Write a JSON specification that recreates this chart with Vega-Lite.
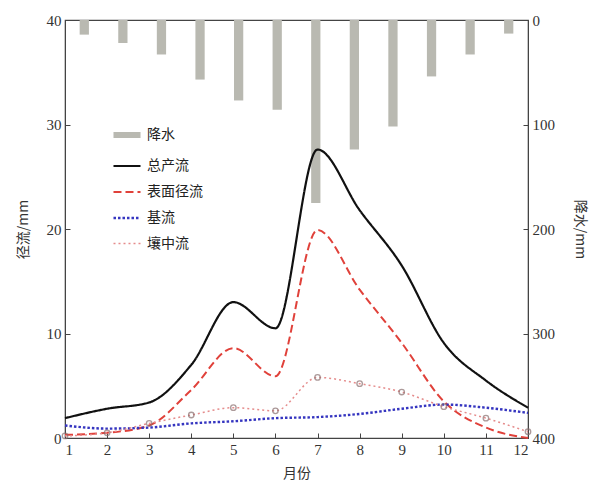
{
  "$schema": "https://vega.github.io/schema/vega-lite/v6.json",
  "autosize": {"type": "none"},
  "padding": {"left": 65, "top": 20, "right": 70, "bottom": 53},
  "width": 463,
  "height": 418,
  "background": "white",
  "config": {
    "view": {"stroke": "#444", "strokeWidth": 1.2},
    "axis": {
      "labelFont": "Liberation Serif",
      "labelFontSize": 15,
      "labelColor": "#333",
      "titleFont": "Noto Sans CJK SC",
      "titleFontSize": 14,
      "titleFontWeight": "normal",
      "titleColor": "#333",
      "domainColor": "#444",
      "tickColor": "#444",
      "tickSize": -5,
      "labelPadding": 9,
      "grid": false
    }
  },
  "datasets": {
    "precip": [
      {"month": 1, "series": "降水", "p": 14},
      {"month": 2, "series": "降水", "p": 22},
      {"month": 3, "series": "降水", "p": 33},
      {"month": 4, "series": "降水", "p": 57},
      {"month": 5, "series": "降水", "p": 77},
      {"month": 6, "series": "降水", "p": 86},
      {"month": 7, "series": "降水", "p": 175},
      {"month": 8, "series": "降水", "p": 124},
      {"month": 9, "series": "降水", "p": 102},
      {"month": 10, "series": "降水", "p": 54},
      {"month": 11, "series": "降水", "p": 33},
      {"month": 12, "series": "降水", "p": 13}
    ],
    "flow": [
      {"month": 1, "series": "总产流", "v": 1.9},
      {"month": 2, "series": "总产流", "v": 2.8},
      {"month": 3, "series": "总产流", "v": 3.4},
      {"month": 4, "series": "总产流", "v": 7.0},
      {"month": 5, "series": "总产流", "v": 13.0},
      {"month": 6, "series": "总产流", "v": 10.5},
      {"month": 7, "series": "总产流", "v": 27.6},
      {"month": 8, "series": "总产流", "v": 21.8},
      {"month": 9, "series": "总产流", "v": 16.5},
      {"month": 10, "series": "总产流", "v": 9.1},
      {"month": 11, "series": "总产流", "v": 5.5},
      {"month": 12, "series": "总产流", "v": 2.9},
      {"month": 1, "series": "表面径流", "v": 0.3},
      {"month": 2, "series": "表面径流", "v": 0.5},
      {"month": 3, "series": "表面径流", "v": 1.2},
      {"month": 4, "series": "表面径流", "v": 4.6},
      {"month": 5, "series": "表面径流", "v": 8.6},
      {"month": 6, "series": "表面径流", "v": 5.9},
      {"month": 7, "series": "表面径流", "v": 19.9},
      {"month": 8, "series": "表面径流", "v": 14.2},
      {"month": 9, "series": "表面径流", "v": 9.1},
      {"month": 10, "series": "表面径流", "v": 3.5},
      {"month": 11, "series": "表面径流", "v": 1.0},
      {"month": 12, "series": "表面径流", "v": 0.0},
      {"month": 1, "series": "基流", "v": 1.2},
      {"month": 2, "series": "基流", "v": 0.9},
      {"month": 3, "series": "基流", "v": 1.0},
      {"month": 4, "series": "基流", "v": 1.4},
      {"month": 5, "series": "基流", "v": 1.6},
      {"month": 6, "series": "基流", "v": 1.9},
      {"month": 7, "series": "基流", "v": 2.0},
      {"month": 8, "series": "基流", "v": 2.3},
      {"month": 9, "series": "基流", "v": 2.8},
      {"month": 10, "series": "基流", "v": 3.2},
      {"month": 11, "series": "基流", "v": 2.9},
      {"month": 12, "series": "基流", "v": 2.4},
      {"month": 1, "series": "壤中流", "v": 0.2},
      {"month": 2, "series": "壤中流", "v": 0.5},
      {"month": 3, "series": "壤中流", "v": 1.4},
      {"month": 4, "series": "壤中流", "v": 2.2},
      {"month": 5, "series": "壤中流", "v": 2.9},
      {"month": 6, "series": "壤中流", "v": 2.6},
      {"month": 7, "series": "壤中流", "v": 5.8},
      {"month": 8, "series": "壤中流", "v": 5.2},
      {"month": 9, "series": "壤中流", "v": 4.4},
      {"month": 10, "series": "壤中流", "v": 3.0},
      {"month": 11, "series": "壤中流", "v": 1.9},
      {"month": 12, "series": "壤中流", "v": 0.6}
    ]
  },
  "layer": [
    {
      "data": {"name": "precip"},
      "mark": {"type": "bar", "width": {"band": 0.24}},
      "encoding": {
        "x": {"field": "month", "type": "ordinal", "axis": null,
              "scale": {"paddingInner": 0, "paddingOuter": 0}},
        "y": {"field": "p", "type": "quantitative",
              "scale": {"domain": [0, 400], "reverse": true, "nice": false},
              "axis": {"orient": "right", "title": "降水/mm", "titleAngle": 90,
                       "values": [0, 100, 200, 300, 400], "titlePadding": 18}},
        "color": {"field": "series", "type": "nominal",
                  "scale": {"domain": ["降水", "总产流", "表面径流", "基流", "壤中流"],
                            "range": ["#b9b9b1", "#111111", "#e0413a", "#3535c0", "#e58c8c"]},
                  "legend": {"title": null, "orient": "none", "legendX": 45, "legendY": 98,
                             "symbolType": "stroke", "symbolSize": 730,
                             "labelFont": "Noto Sans CJK SC", "labelFontSize": 14,
                             "labelColor": "#222", "rowPadding": 4, "labelOffset": 3}}
      }
    },
    {
      "layer": [
        {
          "mark": {"type": "line", "interpolate": "monotone"},
          "encoding": {
            "color": {"field": "series", "type": "nominal"},
            "strokeDash": {"field": "series", "type": "nominal",
                           "scale": {"domain": ["降水", "总产流", "表面径流", "基流", "壤中流"],
                                     "range": [[1, 0], [1, 0], [8, 4], [2.5, 2], [2, 3]]}},
            "strokeWidth": {"field": "series", "type": "nominal",
                            "scale": {"type": "ordinal", "domain": ["降水", "总产流", "表面径流", "基流", "壤中流"],
                                      "range": [6, 2.2, 2, 2.4, 1.5]}}
          }
        },
        {
          "transform": [{"filter": "datum.series === '壤中流'"}],
          "mark": {"type": "point", "shape": "circle", "filled": false, "stroke": "#8a7070", "strokeWidth": 1.3, "size": 30}
        }
      ],
      "data": {"name": "flow"},
      "encoding": {
        "x": {"field": "month", "type": "quantitative",
              "scale": {"domain": [1, 12], "nice": false, "zero": false},
              "axis": {"title": "月份", "values": [1, 2, 3, 4, 5, 6, 7, 8, 9, 10, 11, 12],
                       "titlePadding": 9}},
        "y": {"field": "v", "type": "quantitative",
              "scale": {"domain": [0, 40], "nice": false},
              "axis": {"title": "径流/mm", "values": [0, 10, 20, 30, 40], "titlePadding": 16}}
      }
    }
  ],
  "resolve": {"scale": {"x": "independent", "y": "independent"}}
}
